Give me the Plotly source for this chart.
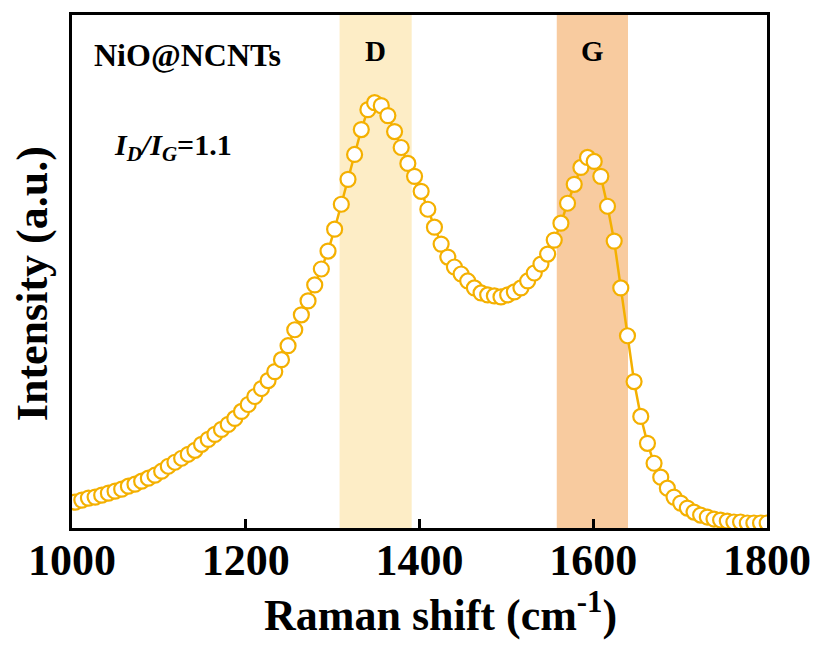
import plotly.graph_objects as go

# Raman shift (cm-1)
raman_shift = [1003.6, 1011.3, 1018.9, 1026.6, 1034.2, 1041.9, 1049.6, 1057.2, 1064.9, 1072.5,
               1080.2, 1087.9, 1095.5, 1103.2, 1110.8, 1118.5, 1126.2, 1133.8, 1141.5, 1149.1,
               1156.8, 1164.5, 1172.1, 1179.8, 1187.4, 1195.1, 1202.8, 1210.4, 1218.1, 1225.7,
               1233.4, 1241.1, 1248.7, 1256.4, 1264.0, 1271.7, 1279.4, 1287.0, 1294.7, 1302.3,
               1310.0, 1317.7, 1325.3, 1333.0, 1340.6, 1348.3, 1356.0, 1363.6, 1371.3, 1378.9,
               1386.6, 1394.3, 1401.9, 1409.6, 1417.2, 1424.9, 1432.6, 1440.2, 1447.9, 1455.5,
               1463.2, 1470.9, 1478.5, 1486.2, 1493.8, 1501.5, 1509.2, 1516.8, 1524.5, 1532.1,
               1539.8, 1547.5, 1555.1, 1562.8, 1570.4, 1578.1, 1585.8, 1593.4, 1601.1, 1608.7,
               1616.4, 1624.1, 1631.7, 1639.4, 1647.0, 1654.7, 1662.4, 1670.0, 1677.7, 1685.3,
               1693.0, 1700.7, 1708.3, 1716.0, 1723.6, 1731.3, 1739.0, 1746.6, 1754.3, 1761.9,
               1769.6, 1777.3, 1784.9, 1792.6, 1800.2]

# Intensity (a.u.)
intensity = [26, 28, 30, 31, 33, 35, 37, 39, 42, 44,
             47, 50, 53, 57, 62, 66, 70, 74, 78, 84,
             89, 94, 99, 104, 110, 117, 124, 132, 140, 148,
             157, 169, 183, 199, 214, 228, 244, 260, 278, 300,
             325, 350, 375, 400, 420, 427, 424, 414, 398, 382,
             366, 353, 338, 320, 302, 285, 272, 262, 255, 248,
             241, 236, 234, 233, 232, 234, 237, 241, 248, 256,
             265, 275, 289, 306, 326, 345, 362, 372, 368, 353,
             323, 288, 241, 193, 147, 112, 85, 65, 51, 40,
             31, 25, 20, 16, 13, 11, 9, 8, 7, 6,
             6, 5, 5, 5, 5]

band_D = [1308, 1391]
band_G = [1558, 1640]
x_ticks = [1000, 1200, 1400, 1600, 1800]

FONT = "Liberation Serif"
ORANGE = "#F4B000"

fig = go.Figure()

fig.add_trace(go.Scatter(
    x=raman_shift, y=intensity, mode="lines+markers",
    line=dict(color=ORANGE, width=2.5),
    marker=dict(symbol="circle", size=15, color="white",
                line=dict(color=ORANGE, width=2.2)),
    showlegend=False,
))

fig.add_vrect(x0=band_D[0], x1=band_D[1], fillcolor="#FDEDC6", opacity=1,
              line_width=0, layer="below")
fig.add_vrect(x0=band_G[0], x1=band_G[1], fillcolor="#F8CB9F", opacity=1,
              line_width=0, layer="below")

def ann(x, y, text, size, xref="paper", angle=0):
    return dict(x=x, y=y, xref=xref, yref="paper", text=text, textangle=angle,
                xanchor="center", yanchor="middle", showarrow=False,
                font=dict(family=FONT, size=size, color="black"))

annotations = [
    ann(sum(band_D) / 2, 0.93, "<b>D</b>", 29, xref="x"),
    ann(sum(band_G) / 2, 0.93, "<b>G</b>", 29, xref="x"),
    ann(0.166, 0.922, "<b>NiO@NCNTs</b>", 32),
    ann(0.145, 0.742, "<b><i>I<sub>D</sub>/I<sub>G</sub></i>=1.1</b>", 30),
    ann(0.53, -0.165, "<b>Raman shift (cm<sup>-1</sup>)</b>", 44),
    ann(-0.057, 0.476, "<b>Intensity (a.u.)</b>", 44, angle=-90),
]

fig.update_layout(
    width=823, height=645,
    margin=dict(l=72, r=51, t=13, b=117),
    paper_bgcolor="white", plot_bgcolor="white",
    annotations=annotations,
    xaxis=dict(range=[1000, 1800], tickvals=x_ticks,
               ticktext=[f"<b>{v}</b>" for v in x_ticks],
               ticks="inside", ticklen=9, tickwidth=2.5, tickcolor="black",
               ticklabelstandoff=-9,
               showline=True, linecolor="black", linewidth=2.5, mirror=True,
               showgrid=False, zeroline=False,
               tickfont=dict(family=FONT, size=44, color="black")),
    yaxis=dict(range=[0, 515], showticklabels=False, ticks="",
               showline=True, linecolor="black", linewidth=2.5, mirror=True,
               showgrid=False, zeroline=False),
)

fig.write_html("out.html")
